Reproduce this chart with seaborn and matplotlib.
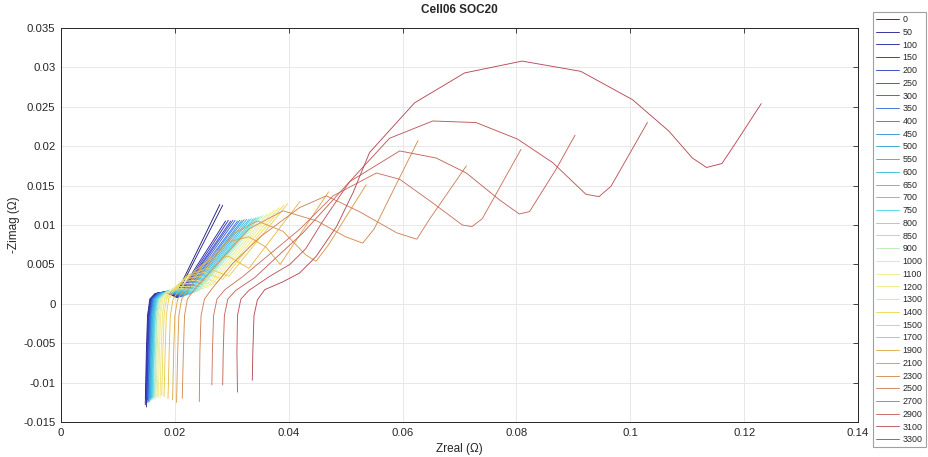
import matplotlib
matplotlib.use("Agg")
import matplotlib.pyplot as plt
import seaborn as sns
import pandas as pd
import numpy as np
from matplotlib.colors import LinearSegmentedColormap

labels = ["0", "50", "100", "150", "200", "250", "300", "350", "400", "450",
          "500", "550", "600", "650", "700", "750", "800", "850", "900",
          "1000", "1100", "1200", "1300", "1400", "1500", "1700", "1900",
          "2100", "2300", "2500", "2700", "2900", "3100", "3300"]

x_0 = [0.0148, 0.0150, 0.0152, 0.0156, 0.0165, 0.0180, 0.0195, 0.0200, 0.0279]
y_0 = [-0.0128, -0.0060, -0.0015, 0.0006, 0.0013, 0.0015, 0.0011, 0.0009, 0.0126]
x_50 = [0.0150, 0.0152, 0.0154, 0.0158, 0.0167, 0.0181, 0.0196, 0.0202, 0.0284]
y_50 = [-0.0131, -0.0060, -0.0015, 0.0006, 0.0013, 0.0015, 0.0011, 0.0009, 0.0125]
x_100 = [0.0149, 0.0151, 0.0153, 0.0157, 0.0166, 0.0181, 0.0197, 0.0203, 0.0289]
y_100 = [-0.0120, -0.0060, -0.0015, 0.0006, 0.0013, 0.0015, 0.0011, 0.0008, 0.0105]
x_150 = [0.0151, 0.0153, 0.0155, 0.0159, 0.0168, 0.0182, 0.0198, 0.0205, 0.0294]
y_150 = [-0.0125, -0.0060, -0.0015, 0.0006, 0.0013, 0.0015, 0.0011, 0.0008, 0.0106]
x_200 = [0.0150, 0.0152, 0.0154, 0.0158, 0.0168, 0.0183, 0.0199, 0.0206, 0.0298]
y_200 = [-0.0118, -0.0060, -0.0015, 0.0006, 0.0013, 0.0015, 0.0011, 0.0008, 0.0105]
x_250 = [0.0152, 0.0154, 0.0156, 0.0160, 0.0169, 0.0184, 0.0200, 0.0208, 0.0302]
y_250 = [-0.0122, -0.0060, -0.0015, 0.0006, 0.0013, 0.0015, 0.0011, 0.0009, 0.0106]
x_300 = [0.0153, 0.0155, 0.0157, 0.0161, 0.0170, 0.0185, 0.0201, 0.0210, 0.0306]
y_300 = [-0.0125, -0.0060, -0.0015, 0.0006, 0.0013, 0.0015, 0.0011, 0.0009, 0.0106]
x_350 = [0.0153, 0.0155, 0.0157, 0.0161, 0.0171, 0.0186, 0.0202, 0.0212, 0.0310]
y_350 = [-0.0120, -0.0060, -0.0015, 0.0006, 0.0013, 0.0016, 0.0012, 0.0009, 0.0105]
x_400 = [0.0154, 0.0156, 0.0158, 0.0162, 0.0172, 0.0187, 0.0203, 0.0214, 0.0314]
y_400 = [-0.0123, -0.0060, -0.0015, 0.0006, 0.0013, 0.0016, 0.0012, 0.0010, 0.0106]
x_450 = [0.0155, 0.0157, 0.0159, 0.0163, 0.0173, 0.0188, 0.0204, 0.0216, 0.0318]
y_450 = [-0.0121, -0.0060, -0.0015, 0.0006, 0.0013, 0.0016, 0.0012, 0.0010, 0.0106]
x_500 = [0.0156, 0.0158, 0.0160, 0.0164, 0.0174, 0.0189, 0.0206, 0.0218, 0.0322]
y_500 = [-0.0124, -0.0060, -0.0015, 0.0006, 0.0013, 0.0016, 0.0013, 0.0011, 0.0107]
x_550 = [0.0157, 0.0159, 0.0161, 0.0165, 0.0175, 0.0190, 0.0207, 0.0220, 0.0326]
y_550 = [-0.0120, -0.0060, -0.0015, 0.0006, 0.0013, 0.0016, 0.0013, 0.0011, 0.0107]
x_600 = [0.0158, 0.0160, 0.0162, 0.0166, 0.0176, 0.0192, 0.0209, 0.0223, 0.0330]
y_600 = [-0.0122, -0.0060, -0.0015, 0.0006, 0.0013, 0.0017, 0.0014, 0.0012, 0.0107]
x_650 = [0.0159, 0.0161, 0.0163, 0.0167, 0.0177, 0.0193, 0.0211, 0.0226, 0.0334]
y_650 = [-0.0119, -0.0060, -0.0015, 0.0006, 0.0013, 0.0017, 0.0014, 0.0012, 0.0108]
x_700 = [0.0160, 0.0162, 0.0164, 0.0168, 0.0178, 0.0194, 0.0213, 0.0229, 0.0338]
y_700 = [-0.0121, -0.0060, -0.0015, 0.0006, 0.0013, 0.0017, 0.0015, 0.0013, 0.0108]
x_750 = [0.0161, 0.0163, 0.0165, 0.0169, 0.0179, 0.0196, 0.0215, 0.0232, 0.0342]
y_750 = [-0.0118, -0.0060, -0.0015, 0.0006, 0.0013, 0.0018, 0.0016, 0.0014, 0.0109]
x_800 = [0.0162, 0.0164, 0.0166, 0.0170, 0.0180, 0.0197, 0.0217, 0.0235, 0.0346]
y_800 = [-0.0120, -0.0060, -0.0015, 0.0006, 0.0013, 0.0018, 0.0017, 0.0015, 0.0110]
x_850 = [0.0164, 0.0166, 0.0168, 0.0172, 0.0182, 0.0199, 0.0220, 0.0239, 0.0350]
y_850 = [-0.0118, -0.0060, -0.0015, 0.0006, 0.0013, 0.0019, 0.0018, 0.0016, 0.0111]
x_900 = [0.0165, 0.0167, 0.0169, 0.0173, 0.0183, 0.0201, 0.0223, 0.0243, 0.0355]
y_900 = [-0.0121, -0.0060, -0.0015, 0.0006, 0.0014, 0.0020, 0.0019, 0.0017, 0.0112]
x_1000 = [0.0167, 0.0169, 0.0171, 0.0175, 0.0185, 0.0205, 0.0228, 0.0250, 0.0362]
y_1000 = [-0.0118, -0.0060, -0.0015, 0.0006, 0.0014, 0.0022, 0.0022, 0.0019, 0.0114]
x_1100 = [0.0169, 0.0171, 0.0173, 0.0177, 0.0187, 0.0208, 0.0233, 0.0257, 0.0368]
y_1100 = [-0.0120, -0.0060, -0.0015, 0.0006, 0.0014, 0.0025, 0.0026, 0.0021, 0.0116]
x_1200 = [0.0171, 0.0173, 0.0175, 0.0179, 0.0189, 0.0211, 0.0238, 0.0265, 0.0375]
y_1200 = [-0.0117, -0.0060, -0.0015, 0.0006, 0.0014, 0.0028, 0.0030, 0.0024, 0.0119]
x_1300 = [0.0174, 0.0176, 0.0178, 0.0182, 0.0192, 0.0215, 0.0244, 0.0274, 0.0383]
y_1300 = [-0.0119, -0.0060, -0.0015, 0.0006, 0.0015, 0.0031, 0.0035, 0.0027, 0.0122]
x_1400 = [0.0177, 0.0179, 0.0181, 0.0185, 0.0195, 0.0219, 0.0251, 0.0284, 0.0391]
y_1400 = [-0.0116, -0.0060, -0.0015, 0.0006, 0.0015, 0.0034, 0.0040, 0.0031, 0.0125]
x_1500 = [0.0181, 0.0183, 0.0185, 0.0189, 0.0199, 0.0224, 0.0258, 0.0295, 0.0398]
y_1500 = [-0.0118, -0.0060, -0.0015, 0.0006, 0.0016, 0.0037, 0.0045, 0.0035, 0.0127]
x_1700 = [0.0188, 0.0190, 0.0192, 0.0197, 0.0207, 0.0235, 0.0265, 0.0295, 0.0330, 0.0420]
y_1700 = [-0.0120, -0.0060, -0.0015, 0.0006, 0.0017, 0.0042, 0.0058, 0.0060, 0.0045, 0.0130]
x_1900 = [0.0196, 0.0198, 0.0200, 0.0205, 0.0216, 0.0250, 0.0290, 0.0330, 0.0360, 0.0385, 0.0470]
y_1900 = [-0.0122, -0.0060, -0.0015, 0.0006, 0.0018, 0.0050, 0.0078, 0.0085, 0.0072, 0.0050, 0.0142]
x_2100 = [0.0203, 0.0205, 0.0207, 0.0212, 0.0224, 0.0265, 0.0305, 0.0345, 0.0390, 0.0430, 0.0448, 0.0470, 0.0536]
y_2100 = [-0.0125, -0.0060, -0.0015, 0.0006, 0.0019, 0.0055, 0.0090, 0.0105, 0.0092, 0.0062, 0.0054, 0.0075, 0.0151]
x_2300 = [0.0213, 0.0215, 0.0217, 0.0222, 0.0235, 0.0280, 0.0330, 0.0390, 0.0450, 0.0500, 0.0530, 0.0550, 0.0627]
y_2300 = [-0.0120, -0.0060, -0.0015, 0.0006, 0.0019, 0.0055, 0.0095, 0.0118, 0.0105, 0.0085, 0.0077, 0.0095, 0.0207]
x_2500 = [0.0243, 0.0244, 0.0246, 0.0252, 0.0265, 0.0300, 0.0350, 0.0419, 0.0466, 0.0524, 0.0590, 0.0625, 0.0647, 0.0712]
y_2500 = [-0.0124, -0.0060, -0.0015, 0.0006, 0.0019, 0.0050, 0.0085, 0.0122, 0.0137, 0.0117, 0.0090, 0.0082, 0.0107, 0.0175]
x_2700 = [0.0265, 0.0266, 0.0268, 0.0274, 0.0288, 0.0320, 0.0370, 0.0420, 0.0478, 0.0554, 0.0595, 0.0653, 0.0705, 0.0722, 0.0740, 0.0808]
y_2700 = [-0.0103, -0.0060, -0.0015, 0.0006, 0.0018, 0.0035, 0.0065, 0.0095, 0.0137, 0.0166, 0.0158, 0.0128, 0.0100, 0.0098, 0.0108, 0.0196]
x_2900 = [0.0284, 0.0285, 0.0287, 0.0293, 0.0307, 0.0340, 0.0380, 0.0425, 0.0507, 0.0595, 0.0659, 0.0712, 0.0770, 0.0805, 0.0823, 0.0869, 0.0903]
y_2900 = [-0.0103, -0.0060, -0.0015, 0.0006, 0.0017, 0.0033, 0.0060, 0.0090, 0.0155, 0.0194, 0.0185, 0.0166, 0.0132, 0.0114, 0.0117, 0.0170, 0.0214]
x_3100 = [0.0310, 0.0309, 0.0310, 0.0316, 0.0330, 0.0367, 0.0402, 0.0430, 0.0460, 0.0507, 0.0577, 0.0653, 0.0729, 0.0802, 0.0864, 0.0922, 0.0945, 0.0966, 0.1030]
y_3100 = [-0.0112, -0.0060, -0.0015, 0.0006, 0.0017, 0.0035, 0.0050, 0.0070, 0.0105, 0.0155, 0.0210, 0.0232, 0.0230, 0.0209, 0.0179, 0.0139, 0.0136, 0.0149, 0.0230]
x_3300 = [0.0336, 0.0337, 0.0339, 0.0345, 0.0358, 0.0390, 0.0419, 0.0448, 0.0484, 0.0513, 0.0542, 0.0621, 0.0709, 0.0810, 0.0913, 0.1004, 0.1068, 0.1109, 0.1134, 0.1161, 0.1185, 0.1230]
y_3300 = [-0.0097, -0.0060, -0.0015, 0.0005, 0.0018, 0.0028, 0.0039, 0.0060, 0.0098, 0.0141, 0.0192, 0.0255, 0.0293, 0.0308, 0.0295, 0.0259, 0.0219, 0.0185, 0.0173, 0.0178, 0.0204, 0.0254]

x_ticks = [0, 0.02, 0.04, 0.06, 0.08, 0.1, 0.12, 0.14]
x_ticklabels = ["0", "0.02", "0.04", "0.06", "0.08", "0.1", "0.12", "0.14"]
y_ticks = [-0.015, -0.01, -0.005, 0, 0.005, 0.01, 0.015, 0.02, 0.025, 0.03, 0.035]
y_ticklabels = ["-0.015", "-0.01", "-0.005", "0", "0.005", "0.01", "0.015", "0.02", "0.025", "0.03", "0.035"]

series = {
    "0": (x_0, y_0), "50": (x_50, y_50), "100": (x_100, y_100), "150": (x_150, y_150),
    "200": (x_200, y_200), "250": (x_250, y_250), "300": (x_300, y_300), "350": (x_350, y_350),
    "400": (x_400, y_400), "450": (x_450, y_450), "500": (x_500, y_500), "550": (x_550, y_550),
    "600": (x_600, y_600), "650": (x_650, y_650), "700": (x_700, y_700), "750": (x_750, y_750),
    "800": (x_800, y_800), "850": (x_850, y_850), "900": (x_900, y_900), "1000": (x_1000, y_1000),
    "1100": (x_1100, y_1100), "1200": (x_1200, y_1200), "1300": (x_1300, y_1300),
    "1400": (x_1400, y_1400), "1500": (x_1500, y_1500), "1700": (x_1700, y_1700),
    "1900": (x_1900, y_1900), "2100": (x_2100, y_2100), "2300": (x_2300, y_2300),
    "2500": (x_2500, y_2500), "2700": (x_2700, y_2700), "2900": (x_2900, y_2900),
    "3100": (x_3100, y_3100), "3300": (x_3300, y_3300),
}

rows = []
for lab in labels:
    xs, ys = series[lab]
    for k, (xv, yv) in enumerate(zip(xs, ys)):
        rows.append({"label": lab, "k": k, "Zreal": xv, "Zimag": yv})
df = pd.DataFrame(rows)

sns.set_style("white")
plt.rcParams['font.family'] = ['Liberation Sans', 'DejaVu Sans']

cmap = LinearSegmentedColormap.from_list("eis", [
    (0.00, "#22227a"), (0.06, "#2a2aa6"), (0.15, "#3a4ed2"), (0.30, "#35a4dc"),
    (0.45, "#48d6e8"), (0.55, "#c4eab8"), (0.62, "#f4f090"), (0.72, "#ecd44c"),
    (0.78, "#e2ad46"), (0.85, "#d48c52"), (0.91, "#cc7462"), (1.00, "#b84a56")])
palette = [cmap(i / (len(labels) - 1)) for i in range(len(labels))]

fig = plt.figure(figsize=(9.29, 4.57), dpi=100)
ax = fig.add_axes([61 / 929, 1 - 422 / 457, (858 - 61) / 929, (422 - 28) / 457])

sns.lineplot(data=df, x="Zreal", y="Zimag", hue="label", hue_order=labels,
             palette=palette, sort=False, estimator=None, lw=0.65, ax=ax, legend=False)

ax.set_xlim(0, 0.14)
ax.set_ylim(-0.015, 0.035)
ax.set_xticks(x_ticks)
ax.set_xticklabels(x_ticklabels)
ax.set_yticks(y_ticks)
ax.set_yticklabels(y_ticklabels)
ax.grid(True, color="#e8e8e8", lw=0.7)
ax.set_axisbelow(True)
for sp in ax.spines.values():
    sp.set_color("#262626")
    sp.set_linewidth(0.7)
ax.tick_params(direction="in", length=3.5, width=0.6, colors="#262626",
               labelsize=8.2, top=True, right=True, pad=4)
ax.set_xlabel("Zreal (Ω)", fontsize=8.5, color="#262626", labelpad=4)
ax.set_ylabel("-Zimag (Ω)", fontsize=8.5, color="#262626", labelpad=2)
ax.set_title("Cell06 SOC20", fontsize=8.5, fontweight="bold", pad=11)

handles = ax.get_lines()[:len(labels)]
leg = fig.legend(handles, labels, loc="upper left",
                 bbox_to_anchor=(873 / 929, 1 - 12 / 457), bbox_transform=fig.transFigure,
                 fontsize=6.4, frameon=True, fancybox=False, framealpha=1,
                 edgecolor="#a0a0a0", handlelength=2.6, handletextpad=0.4,
                 labelspacing=0.42, borderpad=0.35, borderaxespad=0)
leg.get_frame().set_linewidth(0.8)

fig.savefig("out.png", dpi=100)
